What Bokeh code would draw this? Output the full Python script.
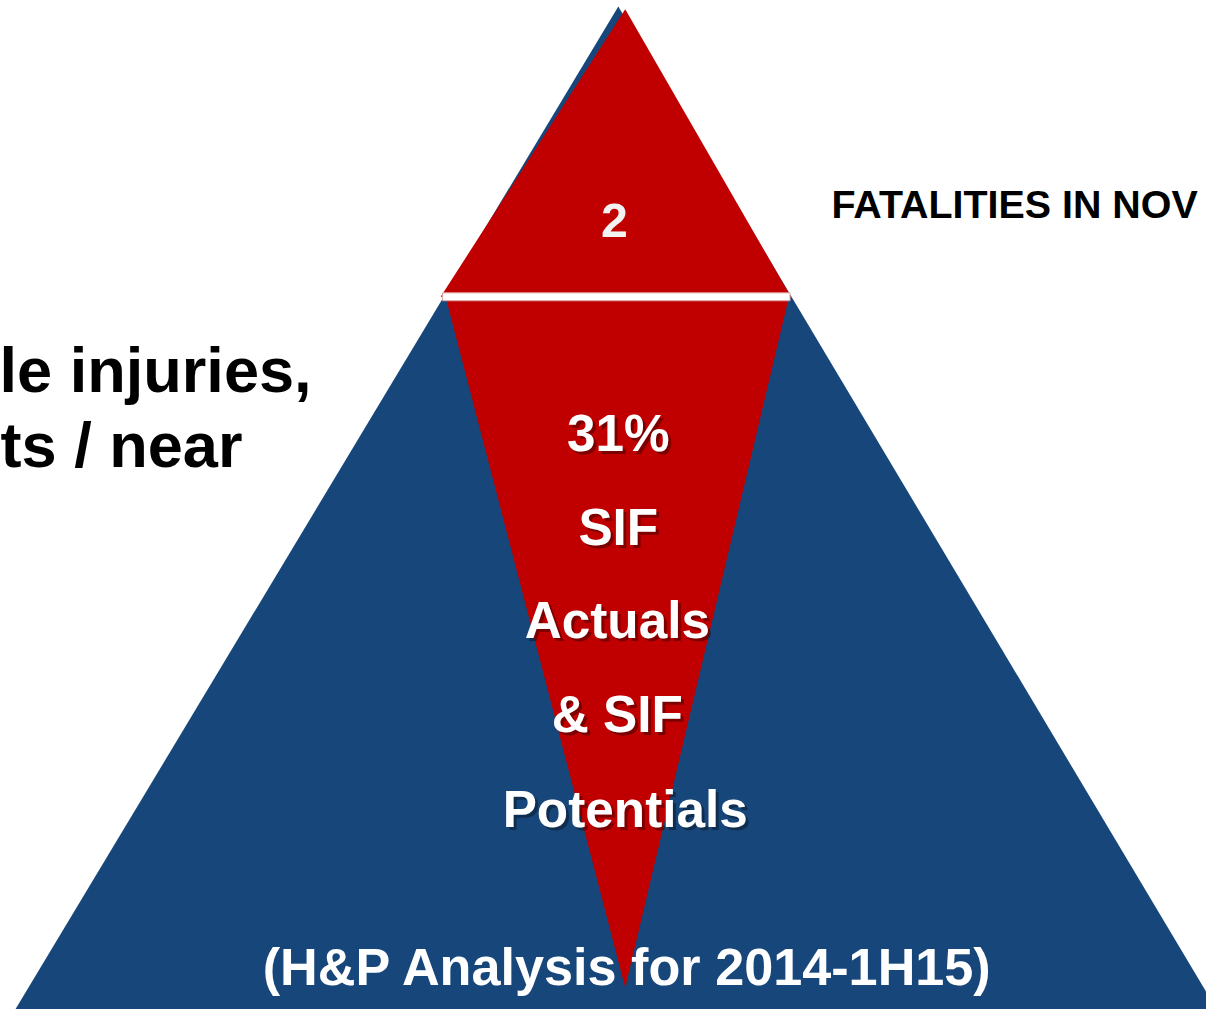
from bokeh.plotting import figure
from bokeh.models import Range1d, ColumnDataSource
from bokeh.core.properties import value
from bokeh.embed import file_html
from bokeh.resources import INLINE

# ---- content ----
top_label = ["2"]
side_label = ["FATALITIES IN NOV"]
left_lines = ["le injuries,", "ts / near"]
sif_lines = ["31%", "SIF", "Actuals", "& SIF", "Potentials"]
footer = ["(H&P Analysis for 2014-1H15)"]

# ---- layout (reference pixel space, y down) ----
W, H = 1222, 1025
MARGIN = 8
FW, FH = W - 2 * MARGIN, H - 2 * MARGIN
S = (FW / W + FH / H) / 2  # font scale


def fs(px):
    return f"{px * S:.1f}px"


blue_x = [626, -24, 1271]
blue_y = [6, 1090, 1090]

red_top_x = [633, 446, 801]
red_top_y = [9, 301, 301]

bar_left, bar_right, bar_top, bar_bottom = 448, 800, 297, 305

red_inv_x = [452, 798, 633]
red_inv_y = [305, 305, 1003]

sif_x = [626, 626, 625, 625, 633]
sif_y = [440, 535, 630, 725, 822]

BLUE = "#17477a"
RED = "#c00000"
FONT = value("Liberation Sans")

p = figure(width=FW, height=FH,
           x_range=Range1d(0, W), y_range=Range1d(H, 0),
           output_backend="svg", toolbar_location=None,
           x_axis_type=None, y_axis_type=None, min_border=0)
p.outline_line_color = None
p.grid.visible = False
p.background_fill_color = "white"
p.border_fill_color = "white"

# shapes
p.patch(blue_x, blue_y, fill_color=BLUE, line_color=None)
p.patch(red_top_x, red_top_y, fill_color=RED, line_color=None)
p.patch(red_inv_x, red_inv_y, fill_color=RED, line_color=None)
p.quad(left=[bar_left], right=[bar_right], top=[bar_top], bottom=[bar_bottom],
       fill_color="white", line_color="#e3a3a3", line_width=1)

# top number
p.text(x=[622], y=[223], text=top_label, text_font=FONT, text_font_style="bold",
       text_font_size=fs(49), text_color="#f2f2f2", text_align="center",
       text_baseline="alphabetic")

# right label
p.text(x=[842], y=[207], text=side_label, text_font=FONT, text_font_style="bold",
       text_font_size=fs(40), text_color="black", text_align="left",
       text_baseline="alphabetic")

# left label
p.text(x=[-1, 0], y=[375, 452], text=left_lines, text_font=FONT, text_font_style="bold",
       text_font_size=fs(64), text_color="black", text_align="left",
       text_baseline="alphabetic")

# SIF lines with shadow
src = ColumnDataSource(dict(x=sif_x, y=sif_y, t=sif_lines))
p.text(x="x", y="y", text="t", source=src, text_font=FONT, text_font_style="bold",
       text_font_size=fs(52), text_color="black", text_alpha=0.35,
       x_offset=3, y_offset=3, text_align="center", text_baseline="alphabetic")
p.text(x="x", y="y", text="t", source=src, text_font=FONT, text_font_style="bold",
       text_font_size=fs(52), text_color="white", text_align="center",
       text_baseline="alphabetic")

# footer
p.text(x=[636], y=[982], text=footer, text_font=FONT, text_font_style="bold",
       text_font_size=fs(53), text_color="white", text_align="center",
       text_baseline="alphabetic")

open("out.html", "w").write(file_html(p, INLINE))
